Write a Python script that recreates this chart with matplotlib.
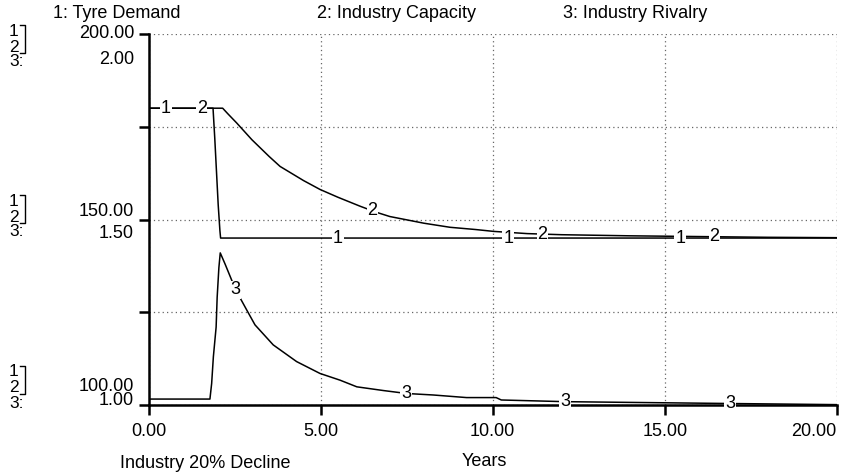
import matplotlib.pyplot as plt
from matplotlib.lines import Line2D
import numpy as np

plt.rcParams['font.family'] = ['Liberation Sans', 'DejaVu Sans']

W, H = 843, 474

# 1: Tyre Demand (scale 100-200)
years_demand = [0, 1.87, 1.92, 1.97, 2.02, 2.07, 2.09, 20]
tyre_demand = [180, 180, 172, 163, 154, 147, 145, 145]

# 2: Industry Capacity (scale 100-200)
years_capacity = [0, 2.15, 2.3, 2.56, 3.0, 3.5, 3.82, 4.5, 4.98, 5.5, 6.14, 6.6,
                  7.01, 8.0, 8.76, 9.5, 10.02, 11.0, 12.0, 14.0, 16.0, 18.0, 20]
industry_capacity = [180, 180, 178.5, 176, 171.5, 167, 164.3, 160.5, 158.1, 156, 153.6, 152,
                     150.8, 149, 147.9, 147.3, 146.8, 146.2, 145.9, 145.6, 145.4, 145.2, 145.1]

# 3: Industry Rivalry (scale 1-2)
years_rivalry = [0, 1.78, 1.83, 1.88, 1.96, 1.99, 2.04, 2.08, 2.22, 2.53, 2.85, 3.09,
                 3.62, 4.3, 4.98, 5.56, 6.05, 6.82, 7.5, 8.27, 9.24, 10.1, 10.25,
                 12.1, 14.0, 16.9, 20]
industry_rivalry = [1.016, 1.016, 1.058, 1.13, 1.21, 1.29, 1.37, 1.41, 1.38, 1.31, 1.256, 1.216,
                    1.162, 1.117, 1.085, 1.067, 1.049, 1.039, 1.031, 1.027, 1.020, 1.020, 1.0135,
                    1.009, 1.007, 1.004, 1.001]

x_ticks = [0, 5, 10, 15, 20]
x_labels = ['0.00', '5.00', '10.00', '15.00', '20.00']
legend = ['1: Tyre Demand', '2: Industry Capacity', '3: Industry Rivalry']

# where the series numbers sit along each line
label_t = {1: [0.5, 5.5, 10.45, 15.45], 2: [1.54, 6.5, 11.45, 16.45], 3: [2.53, 7.48, 12.1, 16.9]}


def fx(x):
    return x / W


def fy(y):
    return 1 - y / H


fig = plt.figure(figsize=(W / 100, H / 100), dpi=100)
ax = fig.add_axes([fx(148.7), fy(405), (836.7 - 148.7) / W, (405 - 34) / H])
ax3 = ax.twinx()

ax.set_xlim(0, 20)
ax.set_ylim(100, 200)
ax3.set_ylim(1, 2)

lw = 1.1
ax.plot(years_demand, tyre_demand, color='black', lw=lw, zorder=3)
ax.plot(years_capacity, industry_capacity, color='black', lw=lw, zorder=3)
ax3.plot(years_rivalry, industry_rivalry, color='black', lw=lw, zorder=3)

box = dict(facecolor='white', edgecolor='none', pad=0.5)
for t in label_t[1]:
    ax.text(t, np.interp(t, years_demand, tyre_demand), '1', fontsize=13,
            ha='center', va='center', bbox=box, zorder=5)
for t in label_t[2]:
    ax.text(t, np.interp(t, years_capacity, industry_capacity), '2', fontsize=13,
            ha='center', va='center', bbox=box, zorder=5)
for t in label_t[3]:
    ax3.text(t, np.interp(t, years_rivalry, industry_rivalry), '3', fontsize=13,
             ha='center', va='center', bbox=box, zorder=5)

# grid and axes
ax.set_xticks(x_ticks)
ax.set_xticklabels(x_labels, fontsize=13)
ax.get_xticklabels()[-1].set_ha('right')
ax.set_yticks([100, 125, 150, 175, 200])
ax.set_yticklabels([])
ax.grid(True, linestyle=(0, (1, 2.5)), color='#666666', lw=0.9)
ax.tick_params(direction='out', length=7, width=1.8, pad=6, colors='black')
for s in ['top', 'right']:
    ax.spines[s].set_visible(False)
for s in ['left', 'bottom']:
    ax.spines[s].set_linewidth(1.8)
for s in ax3.spines.values():
    s.set_visible(False)
ax3.set_yticks([])
ax.set_zorder(1)
ax3.set_zorder(2)
ax.patch.set_visible(False)

# top legend
for txt, x in zip(legend, [53, 317, 563]):
    fig.text(fx(x), fy(14), txt, fontsize=13, ha='left', va='center')

# left scale labels
scale_labels = [('200.00', 33.5), ('2.00', 60), ('150.00', 211), ('1.50', 233.5),
                ('100.00', 386.5), ('1.00', 400.5)]
for txt, y in scale_labels:
    fig.text(fx(134), fy(y), txt, fontsize=13, ha='right', va='center')

# series markers with brackets
for top in [31, 201, 372]:
    fig.text(fx(9), fy(top), '1', fontsize=12.5, ha='left', va='center')
    fig.text(fx(9), fy(top + 16), '2', fontsize=12.5, ha='left', va='center')
    fig.text(fx(9), fy(top + 31), '3:', fontsize=12.5, ha='left', va='center')
    y0, y1 = top - 6, top + 22
    fig.add_artist(Line2D([fx(20), fx(25), fx(25), fx(20)], [fy(y0), fy(y0), fy(y1), fy(y1)],
                          color='black', lw=1.0))

fig.text(fx(484), fy(461), 'Years', fontsize=13, ha='center', va='center')
fig.text(fx(120), fy(463), 'Industry 20% Decline', fontsize=13, ha='left', va='center')

fig.savefig('out.png', dpi=100)
